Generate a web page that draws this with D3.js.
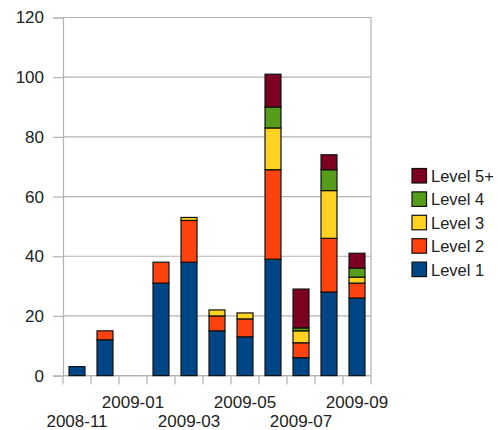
<!DOCTYPE html>
<html>
<head>
<meta charset="utf-8">
<script src="https://cdn.jsdelivr.net/npm/d3@7"></script>
<style>
  html, body { margin: 0; padding: 0; background: #fff; }
  svg { display: block; font-family: "Liberation Sans", Arial, sans-serif; }
</style>
</head>
<body>
<svg id="chart" width="498" height="430"></svg>
<script>
// Monthly counts per level
const months = ["2008-11", "2008-12", "2009-01", "2009-02", "2009-03", "2009-04",
                "2009-05", "2009-06", "2009-07", "2009-08", "2009-09"];
const level1 = [3, 12, 0, 31, 38, 15, 13, 39, 6, 28, 26];
const level2 = [0, 3, 0, 7, 14, 5, 6, 30, 5, 18, 5];
const level3 = [0, 0, 0, 0, 1, 2, 2, 14, 4, 16, 2];
const level4 = [0, 0, 0, 0, 0, 0, 0, 7, 1, 7, 3];
const level5 = [0, 0, 0, 0, 0, 0, 0, 11, 13, 5, 5];
const seriesNames = ["Level 1", "Level 2", "Level 3", "Level 4", "Level 5+"];
const seriesColors = ["#004586", "#ff420e", "#ffd320", "#579d1c", "#7e0021"];
const yTicks = [0, 20, 40, 60, 80, 100, 120];
const labelledMonths = ["2008-11", "2009-01", "2009-03", "2009-05", "2009-07", "2009-09"];

const seriesValues = [level1, level2, level3, level4, level5];
const rows = months.map((m, i) => {
  const r = { month: m };
  seriesNames.forEach((s, k) => { r[s] = seriesValues[k][i]; });
  return r;
});
const stacked = d3.stack().keys(seriesNames)(rows);

const svg = d3.select("#chart");
const plotLeft = 63, plotRight = 371, plotTop = 17.5, plotBottom = 375.6;

const x = d3.scaleBand().domain(months).range([plotLeft, plotRight]).paddingInner(0.43).paddingOuter(0.215);
const xEdges = d3.scaleBand().domain(months).range([plotLeft, plotRight]).padding(0);
const y = d3.scaleLinear().domain([0, 120]).range([plotBottom, plotTop]);

const grid = "#b3b3b3";

// Horizontal gridlines
svg.append("g").selectAll("line").data(yTicks).join("line")
  .attr("x1", plotLeft).attr("x2", plotRight)
  .attr("y1", d => y(d)).attr("y2", d => y(d))
  .attr("stroke", grid).attr("stroke-width", 1.2);

// Right border of the plot area
svg.append("line").attr("x1", plotRight).attr("x2", plotRight)
  .attr("y1", plotTop).attr("y2", plotBottom).attr("stroke", grid).attr("stroke-width", 1.2);

// Y axis
const yAxis = svg.append("g").attr("transform", `translate(${plotLeft},0)`)
  .call(d3.axisLeft(y).tickValues(yTicks).tickSize(10).tickPadding(9));
yAxis.select(".domain").attr("stroke", grid).attr("stroke-width", 1.2);
yAxis.selectAll(".tick line").attr("stroke", grid).attr("stroke-width", 1.2);
yAxis.selectAll(".tick text").attr("fill", "#222").style("font-size", "17px")
  .style("font-family", "'Liberation Sans', Arial, sans-serif");

// X axis: ticks at band boundaries
const boundaries = months.map(m => xEdges(m)).concat([plotRight]);
svg.append("line").attr("x1", plotLeft).attr("x2", plotRight).attr("y1", plotBottom).attr("y2", plotBottom)
  .attr("stroke", grid).attr("stroke-width", 1.2);
svg.append("g").selectAll("line").data(boundaries).join("line")
  .attr("x1", d => d).attr("x2", d => d)
  .attr("y1", plotBottom).attr("y2", plotBottom + 9)
  .attr("stroke", grid).attr("stroke-width", 1.2);

// Staggered month labels
svg.append("g").selectAll("text").data(labelledMonths).join("text")
  .attr("x", d => xEdges(d) + xEdges.bandwidth() / 2)
  .attr("y", (d, i) => i % 2 === 0 ? 427 : 408)
  .attr("text-anchor", "middle")
  .attr("fill", "#222").style("font-size", "17px")
  .text(d => d);

// Stacked bars
svg.append("g").selectAll("g").data(stacked).join("g")
  .attr("fill", (d, i) => seriesColors[i])
  .selectAll("rect").data(d => d.filter(s => s[1] - s[0] > 0)).join("rect")
  .attr("x", d => x(d.data.month))
  .attr("width", x.bandwidth())
  .attr("y", d => y(d[1]))
  .attr("height", d => y(d[0]) - y(d[1]))
  .attr("stroke", "#111").attr("stroke-width", 1.2);

// Legend (top entry is the highest level)
const legend = svg.append("g");
const legendItems = seriesNames.map((s, i) => ({ name: s, color: seriesColors[i] })).reverse();
const lg = legend.selectAll("g").data(legendItems).join("g")
  .attr("transform", (d, i) => `translate(412,${168.5 + i * 23.4})`);
lg.append("rect").attr("width", 14.5).attr("height", 14.5)
  .attr("fill", d => d.color).attr("stroke", "#111").attr("stroke-width", 1.2);
lg.append("text").attr("x", 19).attr("y", 13.5)
  .attr("fill", "#222").style("font-size", "16.5px").text(d => d.name);
</script>
</body>
</html>
